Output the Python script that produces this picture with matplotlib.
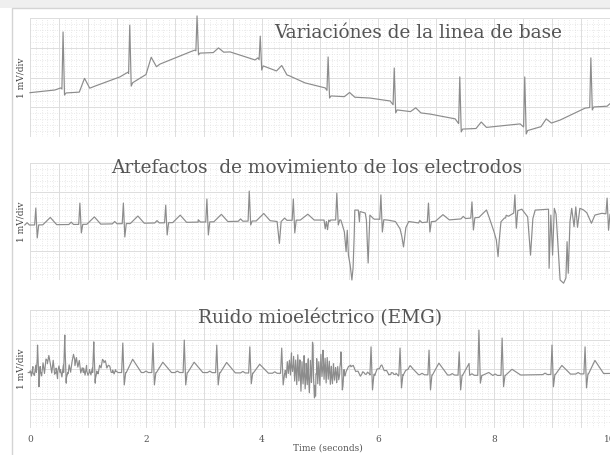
import numpy as np
import matplotlib
matplotlib.use("Agg")
import matplotlib.pyplot as plt
from matplotlib.ticker import MultipleLocator
from matplotlib.patches import Rectangle

# ---- panel 1: baseline wander -------------------------------------------
P1_BEAT_T = [0.57, 1.72, 2.88, 3.97, 5.14, 6.28, 7.41, 8.53, 9.67]
P1_R_TOP = [3.53, 3.76, 4.07, 3.39, 2.69, 2.32, 2.02, 2.02, 2.66]
P1_S_BOT = [1.41, 1.71, 2.76, 2.25, 1.31, 0.81, 0.17, 0.10, 0.91]
P1_T_AMP = [0.40, 0.45, 0.15, 0.25, 0.15, 0.15, 0.20, 0.20, 0.15]
P1_BASE_T = [0.00, 0.43, 0.53, 0.62, 0.86, 1.12, 1.55, 1.69, 1.78, 2.24, 2.76,
             2.84, 2.93, 3.45, 3.88, 3.93, 4.02, 4.48, 4.74, 5.09, 5.19, 5.86,
             6.21, 6.33, 6.90, 7.33, 7.47, 8.10, 8.45, 8.59, 9.14, 9.57, 9.72,
             10.0]
P1_BASE_V = [1.49, 1.58, 1.65, 1.48, 1.51, 1.71, 2.02, 2.18, 1.78, 2.45, 2.86,
             2.92, 2.82, 2.86, 2.59, 2.66, 2.39, 2.05, 1.82, 1.65, 1.38, 1.31,
             1.21, 0.91, 0.77, 0.61, 0.24, 0.37, 0.44, 0.20, 0.57, 0.97, 1.01,
             1.04]

# ---- panel 2: electrode motion artefacts ---------------------------------
P2_BEAT_T = [0.10, 0.86, 1.61, 2.34, 3.05, 3.78, 4.54, 5.29, 6.05, 6.87,
             7.62, 8.36, 9.95]
P2_R_TOP = [2.46, 2.63, 2.63, 2.56, 2.77, 3.04, 2.77, 2.97, 2.91, 2.63,
            2.67, 2.91, 2.80]
P2_S_BOT = [1.44, 1.61, 1.47, 1.54, 1.54, 1.88, 1.61, 1.88, 1.64, 1.64,
            1.71, 1.77, 1.70]
P2_T_AMP = [0.25, 0.25, 0.25, 0.25, 0.25, 0.25, 0.2, 0.15, 0.2, 0.2,
            0.25, 0.15, 0.2]
P2_BASE_T = [0.0, 1.2, 2.9, 4.7, 5.2, 6.0, 6.7, 7.2, 7.8, 8.2, 8.45, 9.05, 10.0]
P2_BASE_V = [1.88, 1.91, 1.98, 2.05, 2.05, 2.08, 1.95, 2.05, 2.15, 2.12, 2.42,
             2.42, 2.25]
P2_ART_T = [
    [4.26, 4.30, 4.33],
    [5.07, 5.09, 5.11, 5.13, 5.15, 5.17],
    [5.36, 5.42, 5.45, 5.47, 5.49, 5.52, 5.55, 5.57, 5.59, 5.60, 5.66, 5.68,
     5.69, 5.78, 5.80, 5.83, 5.86, 5.92],
    [6.30, 6.38, 6.41, 6.44, 6.48, 6.53],
    [7.92, 8.00, 8.04, 8.07, 8.09, 8.12, 8.18],
    [8.58, 8.63, 8.67, 8.71, 8.94],
    [8.95, 8.98, 9.01, 9.04, 9.07, 9.11, 9.14, 9.20, 9.24, 9.26, 9.28, 9.31,
     9.34, 9.38, 9.41, 9.44, 9.48, 9.54, 9.60, 9.68, 9.74, 9.86],
]
P2_ART_V = [
    [2.0, 1.25, 2.0],
    [2.05, 1.75, 2.0, 1.72, 2.05, 2.0],
    [2.05, 1.65, 0.97, 1.70, 0.85, 0.51, 0.0, 0.41, 1.54, 2.39, 2.39, 1.99,
     2.34, 2.29, 2.05, 0.58, 2.22, 2.10],
    [2.0, 1.75, 1.5, 1.13, 1.79, 2.0],
    [2.12, 1.65, 1.37, 0.80, 1.35, 1.99, 2.12],
    [2.16, 0.85, 2.10, 2.39, 2.42],
    [0.40, 2.22, 0.85, 2.45, 2.25, 0.97, 0.0, -0.11, 0.07, 1.31, 0.23, 1.99,
     2.45, 1.82, 2.50, 1.80, 2.45, 2.40, 2.30, 1.94, 2.22, 2.28],
]

# ---- panel 3: EMG noise --------------------------------------------------
P3_BEAT_T = [0.13, 0.60, 1.10, 1.60, 2.12, 2.66, 3.22, 3.79, 4.34, 4.88,
             5.36, 5.88, 6.38, 6.88, 7.40, 7.74, 8.14, 9.00, 9.57]
P3_R_TOP = [2.81, 3.15, 2.92, 2.88, 2.88, 2.98, 2.81, 2.75, 2.71, 2.81,
            2.58, 2.75, 2.71, 2.64, 2.58, 3.32, 3.05, 2.81, 2.75]
P3_S_BOT = [1.40, 1.52, 1.52, 1.46, 1.46, 1.46, 1.46, 1.50, 1.46, 1.02,
            1.29, 1.29, 1.36, 1.29, 1.29, 1.52, 1.40, 1.40, 1.36]
P3_T_AMP = [0.40, 0.45, 0.40, 0.45, 0.35, 0.35, 0.35, 0.30, 0.30, 0.30,
            0.30, 0.30, 0.30, 0.40, 0.40, 0.10, 0.20, 0.30, 0.45]
P3_BASE_T = [0.0, 3.0, 6.0, 8.0, 10.0]
P3_BASE_V = [1.88, 1.88, 1.82, 1.78, 1.85]
EMG_SPANS = [(0.0, 1.5), (4.40, 5.45), (5.45, 6.6)]
EMG_VALS = [
    [0.05, -0.15, 0.2, -0.1, 0.25, -0.2, 0.1, 0.3, -0.15, 0.2, -0.25, 0.15,
     -0.1, 0.25, 0.05, -0.2, 0.3, -0.1, 0.15, -0.25, 0.2, 0.1, -0.15, 0.25,
     -0.2, 0.15, -0.05, 0.2, -0.15, 0.1, 0.25, -0.2, 0.15, -0.1, 0.2, -0.15,
     0.1, 0.15, -0.1, 0.2, -0.12, 0.1, -0.08, 0.15, -0.1, 0.12, 0.05, -0.1,
     0.1, -0.08, 0.12, -0.05, 0.08, -0.1, 0.06, 0.1, -0.05, 0.08, -0.06, 0.05,
     0.0],
    [0.1, -0.2, 0.3, -0.15, 0.25, -0.3, 0.4, -0.2, 0.35, -0.45, 0.3, -0.5,
     0.55, -0.3, 0.45, -0.6, 0.4, -0.35, 0.6, -0.55, 0.3, -0.4, 0.5, -0.65,
     0.45, -0.3, 0.55, -0.5, 0.35, -0.6, 0.5, -0.4, 0.3, -0.55, 0.45, -0.35,
     0.5, -0.45, 0.3, -0.5, 0.4, -0.3, 0.35, -0.4, 0.25, -0.35, 0.3, -0.25,
     0.2, -0.3, 0.25, -0.2, 0.15, -0.25, 0.2, -0.1, 0.15, -0.1, 0.0],
    [0.0, 0.06, -0.05, 0.08, -0.04, 0.05, -0.07, 0.06, -0.03, 0.07, -0.06,
     0.04, -0.05, 0.06, -0.04, 0.05, -0.06, 0.03, -0.04, 0.05, -0.03, 0.04,
     -0.05, 0.03, -0.02, 0.04, -0.03, 0.02, 0.0],
]

TITLES = ["Variaciónes de la linea de base",
          "Artefactos  de movimiento de los electrodos",
          "Ruido mioeléctrico (EMG)"]
XTICKS = [0, 2, 4, 6, 8, 10]

# beat shape timing (s after R) per panel: P peak, T start, T peak, T end, P amp
SHAPES = [
    dict(p=-0.15, p_amp=0.0, t0=0.28, tp=0.37, t1=0.46),
    dict(p=-0.15, p_amp=0.08, t0=0.12, tp=0.25, t1=0.36),
    dict(p=-0.12, p_amp=0.05, t0=0.06, tp=0.17, t1=0.32),
]


def ecg_trace(beat_t, r_top, s_bot, t_amp, base_t, base_v, shape):
    base = lambda t: np.interp(t, base_t, base_v)
    windows = [(tb - 0.02, tb + shape["t1"]) for tb in beat_t]
    pts = [(t, v) for t, v in zip(base_t, base_v)
           if not any(a < t < b for a, b in windows)]
    for tb, r, s, ta in zip(beat_t, r_top, s_bot, t_amp):
        if shape["p_amp"] > 0:
            for dt, dv in [(-0.04, 0), (0, shape["p_amp"]), (0.04, 0)]:
                pts.append((tb + shape["p"] + dt, base(tb + shape["p"] + dt) + dv))
        pts += [(tb - 0.02, base(tb - 0.02)), (tb, r), (tb + 0.025, s),
                (tb + 0.05, base(tb + 0.05)),
                (tb + shape["t0"], base(tb + shape["t0"])),
                (tb + shape["tp"], base(tb + shape["tp"]) + ta),
                (tb + shape["t1"], base(tb + shape["t1"]))]
    pts.sort()
    return np.array([p[0] for p in pts]), np.array([p[1] for p in pts])


def add_groups(t, v, groups_t, groups_v):
    # artefact stretches replace the clean trace over their own span
    for gt, gv in zip(groups_t, groups_v):
        keep = (t < gt[0]) | (t > gt[-1])
        t = np.concatenate([t[keep], gt])
        v = np.concatenate([v[keep], gv])
        order = np.argsort(t, kind="stable")
        t, v = t[order], v[order]
    return t, v


def add_noise(t, v, spans, vals):
    # EMG values, laid over the clean trace
    for (a, b), nv in zip(spans, vals):
        nt = np.linspace(a, b, len(nv))
        nvv = np.interp(nt, t, v) + np.array(nv)
        t = np.concatenate([t, nt])
        v = np.concatenate([v, nvv])
        order = np.argsort(t, kind="stable")
        t, v = t[order], v[order]
    return t, v


t1, v1 = ecg_trace(P1_BEAT_T, P1_R_TOP, P1_S_BOT, P1_T_AMP, P1_BASE_T, P1_BASE_V, SHAPES[0])
t2, v2 = ecg_trace(P2_BEAT_T, P2_R_TOP, P2_S_BOT, P2_T_AMP, P2_BASE_T, P2_BASE_V, SHAPES[1])
t2, v2 = add_groups(t2, v2, P2_ART_T, P2_ART_V)
t3, v3 = ecg_trace(P3_BEAT_T, P3_R_TOP, P3_S_BOT, P3_T_AMP, P3_BASE_T, P3_BASE_V, SHAPES[2])
t3, v3 = add_noise(t3, v3, EMG_SPANS, EMG_VALS)

fig = plt.figure(figsize=(6.1, 4.55), dpi=100)
W, H = 610.0, 455.0
# light frame of the original screenshot
fig.add_artist(Rectangle((0, 1 - 8 / H), 1, 8 / H, transform=fig.transFigure,
                         facecolor="#efefef", edgecolor="none"))
fig.add_artist(Rectangle((12 / W, -0.1), 1.2, 1.1 - 8 / H, transform=fig.transFigure,
                         facecolor="none", edgecolor="#d4d4d4", lw=1.0))

panels = [(137, 119, t1, v1, (0.669, 0.874)),
          (280, 117, t2, v2, (0.495, 0.957)),
          (428, 118, t3, v3, (0.50, 0.932))]
serif = "DejaVu Serif"

for i, (bot, hgt, t, v, tpos) in enumerate(panels):
    ax = fig.add_axes([30 / W, 1 - bot / H, 580 / W, hgt / H])
    ax.set_xlim(0, 10)
    ax.set_ylim(0, 4)
    ax.xaxis.set_major_locator(MultipleLocator(0.5))
    ax.xaxis.set_minor_locator(MultipleLocator(0.1))
    ax.yaxis.set_major_locator(MultipleLocator(1))
    ax.yaxis.set_minor_locator(MultipleLocator(0.2))
    ax.grid(which="major", color="#dddddd", lw=0.7)
    ax.grid(which="minor", color="#d6d6d6", lw=0.5, ls=(0, (1, 2.5)))
    ax.set_axisbelow(True)
    for sp in ax.spines.values():
        sp.set_visible(False)
    ax.tick_params(which="both", length=0, labelleft=False)
    ax.plot(t, v, color="#8c8c8c", lw=0.85, clip_on=False)
    ax.text(tpos[0], tpos[1], TITLES[i], transform=ax.transAxes, ha="center",
            va="center", family=serif, fontsize=13.3, color="#555555")
    ax.set_ylabel("1 mV/div", family=serif, fontsize=6.5, color="#444444", labelpad=3)
    if i < 2:
        ax.tick_params(labelbottom=False)
    else:
        grid_x = np.arange(0, 10.01, 0.5)
        ax.set_xticks(grid_x)
        ax.set_xticklabels([str(int(x)) if x in XTICKS else "" for x in grid_x],
                           family=serif, fontsize=6.5, color="#555555")
        ax.tick_params(axis="x", pad=5)
        ax.set_xlabel("Time (seconds)", family=serif, fontsize=6.5, color="#555555",
                      labelpad=0)
        ax.xaxis.set_label_coords(0.514, -0.13)

fig.savefig("out.png", dpi=100)
